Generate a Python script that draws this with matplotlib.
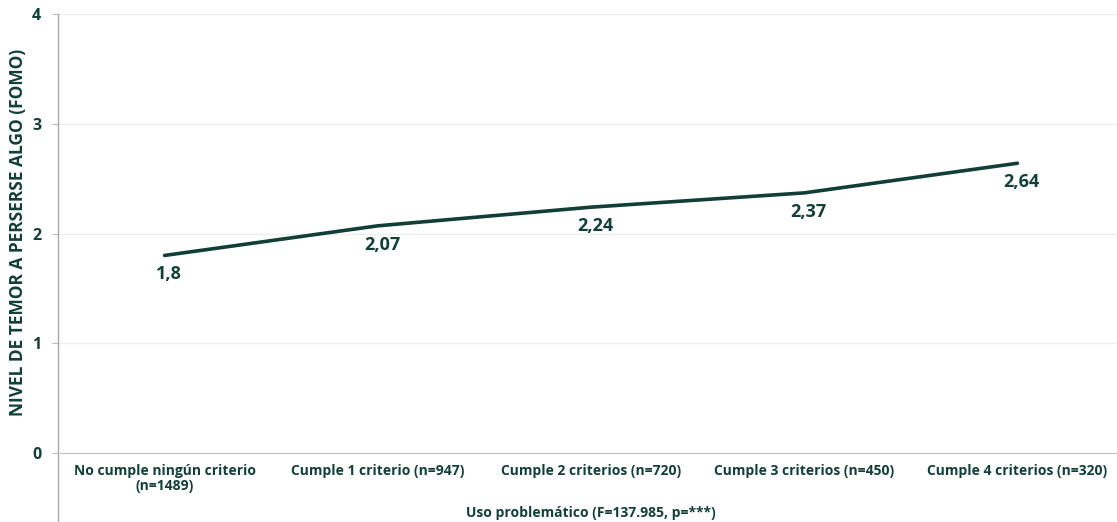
import numpy as np
import matplotlib.pyplot as plt

# datos: nivel medio de FOMO según criterios de uso problemático
categorias = ['No cumple ningún criterio\n(n=1489)', 'Cumple 1 criterio (n=947)',
              'Cumple 2 criterios (n=720)', 'Cumple 3 criterios (n=450)',
              'Cumple 4 criterios (n=320)']
valores = [1.8, 2.07, 2.24, 2.37, 2.64]
etiquetas = ['1,8', '2,07', '2,24', '2,37', '2,64']

verde = '#113f37'
texto = '#123f38'
plt.rcParams['font.family'] = ['Open Sans', 'DejaVu Sans']
plt.rcParams['font.weight'] = 'bold'

fig = plt.figure(figsize=(11.17, 5.22), dpi=100)
ax = fig.add_axes([58 / 1117, 69 / 522, 1066 / 1117, 439 / 522])

x = np.arange(len(valores))
ax.plot(x, valores, color=verde, lw=2.6, solid_capstyle='round')

# etiquetas de valor bajo cada punto
for xi, v, t in zip(x, valores, etiquetas):
    ax.annotate(t, (xi, v), xytext=(3, -7), textcoords='offset points',
                ha='center', va='top', fontsize=13, fontweight='bold', color=texto)

ax.set_xlim(-0.5, 4.5)
ax.set_ylim(0, 4)
ax.set_yticks([0, 1, 2, 3, 4])
ax.set_xticks(x)
ax.set_xticklabels(categorias, fontsize=10, fontweight='bold', color=texto,
                   linespacing=1.1)
ax.tick_params(axis='x', length=0, pad=8)
ax.tick_params(axis='y', length=4, color='#bbbbbb', pad=8, labelsize=11.5,
               labelcolor=texto)
for lab in ax.get_yticklabels():
    lab.set_fontweight('bold')

ax.grid(axis='y', color='#eeeeee', lw=1)
ax.set_axisbelow(True)
for s in ['top', 'right']:
    ax.spines[s].set_visible(False)
ax.spines['bottom'].set_color('#c4c4c4')
ax.spines['left'].set_visible(False)
# eje vertical que baja hasta el borde de la figura
ax.plot([-0.5, -0.5], [-0.16, 1.0], transform=ax.get_xaxis_transform(),
        color='#a8a8a8', lw=1, clip_on=False)

ax.set_xlabel('Uso problemático (F=137.985, p=***)', fontsize=10,
              fontweight='bold', color=texto, labelpad=9)
fig.text(18 / 1117, 0.555, 'NIVEL DE TEMOR A PERSERSE ALGO (FOMO)', rotation=90,
         ha='center', va='center', fontsize=12.5, fontweight='bold', color=texto)

fig.savefig('out.png', dpi=100)
